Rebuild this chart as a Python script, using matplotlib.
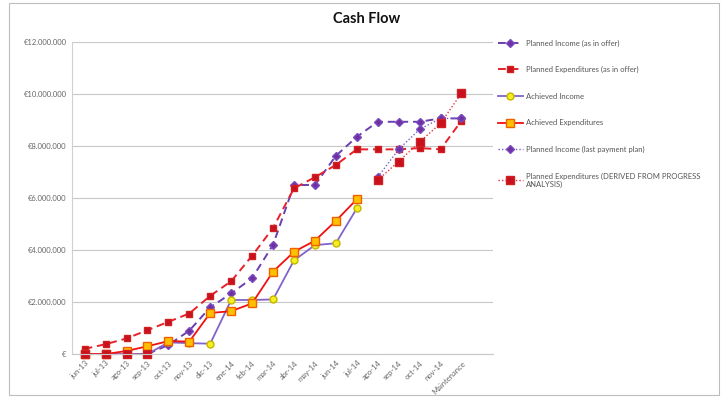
import numpy as np
import matplotlib
matplotlib.use("Agg")
import matplotlib.pyplot as plt
from matplotlib.patches import Rectangle

plt.rcParams["font.family"] = ["Lato", "DejaVu Sans"]

nan = np.nan

months = ["jun-13", "jul-13", "ago-13", "sep-13", "oct-13", "nov-13", "dic-13",
          "ene-14", "feb-14", "mar-14", "abr-14", "may-14", "jun-14", "jul-14",
          "ago-14", "sep-14", "oct-14", "nov-14", "Maintenance"]

# values in millions of euro
inc_offer = [0, 0, 0, 0, 0.35, 0.9, 1.8, 2.33, 2.92, 4.2, 6.5, 6.5, 7.62, 8.35,
             8.93, 8.93, 8.93, 9.06, 9.06]
exp_offer = [0.2, 0.38, 0.6, 0.92, 1.24, 1.56, 2.24, 2.8, 3.78, 4.85, 6.37, 6.8,
             7.27, 7.87, 7.87, 7.87, 7.92, 7.87, 8.97]
inc_achieved = [0, 0, 0, 0, 0.45, 0.42, 0.4, 2.08, 2.08, 2.1, 3.6, 4.19, 4.26,
                5.6, nan, nan, nan, nan, nan]
exp_achieved = [0, 0, 0.12, 0.3, 0.5, 0.48, 1.58, 1.65, 1.95, 3.17, 3.93, 4.36,
                5.12, 5.95, nan, nan, nan, nan, nan]
inc_last_plan = [nan] * 14 + [6.8, 7.87, 8.64, 9.06, 9.06]
exp_derived = [0, 0, 0, 0] + [nan] * 10 + [6.69, 7.4, 8.15, 8.87, 10.03]

x = np.arange(len(months))
M = 1e6

fig = plt.figure(figsize=(7.28, 4.07), dpi=100)
fig.patches.append(Rectangle((0.012, 0.03), 0.976, 0.962, transform=fig.transFigure,
                             fill=False, edgecolor="#bdbdbd", linewidth=0.8))
ax = fig.add_axes([0.099, 0.13, 0.578, 0.767])

ax.plot(x, np.array(inc_offer) * M, color="#6a3fb0", linestyle=(0, (4, 2.5)),
        linewidth=1.4, marker="D", markersize=4.5, markerfacecolor="#7030a0",
        markeredgecolor="#7a4cc0", label="Planned Income (as in offer)", clip_on=False)
ax.plot(x, np.array(exp_offer) * M, color="#e8202a", linestyle=(0, (4, 2.5)),
        linewidth=1.4, marker="s", markersize=5, markerfacecolor="#c8101e",
        markeredgecolor="#d02020", label="Planned Expenditures (as in offer)",
        clip_on=False)
ax.plot(x, np.array(inc_achieved) * M, color="#8064c8", linewidth=1.3,
        marker="o", markersize=5, markerfacecolor="#f2f020",
        markeredgecolor="#c8b400", label="Achieved Income", clip_on=False)
ax.plot(x, np.array(exp_achieved) * M, color="#f01010", linewidth=1.3,
        marker="s", markersize=5.5, markerfacecolor="#ffc000",
        markeredgecolor="#f06000", label="Achieved Expenditures", clip_on=False)
ax.plot(x, np.array(inc_last_plan) * M, color="#7a5cc8", linestyle=(0, (1, 1.5)),
        linewidth=1.0, marker="D", markersize=4.5, markerfacecolor="#7030a0",
        markeredgecolor="#7a4cc0", label="Planned Income (last payment plan)",
        clip_on=False)
ax.plot(x, np.array(exp_derived) * M, color="#e83040", linestyle=(0, (1, 1.5)),
        linewidth=1.0, marker="s", markersize=5.5, markerfacecolor="#c8101e",
        markeredgecolor="#d02020",
        label="Planned Expenditures (DERIVED FROM PROGRESS\nANALYSIS)", clip_on=False)

ax.set_xlim(-0.6, 19.5)
ax.set_ylim(0, 12 * M)
yt = np.arange(0, 13, 2) * M
ax.set_yticks(yt)
ylabels = ["€"] + ["€{:,.0f}".format(v).replace(",", ".") for v in yt[1:]]
ax.set_yticklabels(ylabels, fontsize=5.5, color="#666666")
ax.set_xticks(x)
ax.set_xticklabels(months, fontsize=5.5, color="#666666", rotation=45,
                   ha="right", rotation_mode="anchor")
ax.tick_params(axis="both", length=0, pad=4)
ax.grid(axis="y", color="#c8c8c8", linewidth=0.8)
ax.set_axisbelow(True)
for side in ["top", "right"]:
    ax.spines[side].set_visible(False)
ax.spines["left"].set_color("#d0d0d0")
ax.spines["bottom"].set_color("#c8c8c8")

fig.text(0.503, 0.953, "Cash Flow", ha="center", va="center", fontsize=10.5,
         fontweight="bold", color="#111111")

leg = ax.legend(loc="upper left", bbox_to_anchor=(1.0, 1.025), frameon=False,
                fontsize=5.5, labelspacing=2.55, handlelength=3.2,
                handletextpad=0.5, borderaxespad=0.3)
for t in leg.get_texts():
    t.set_color("#555555")

fig.savefig("out.png", dpi=100)
